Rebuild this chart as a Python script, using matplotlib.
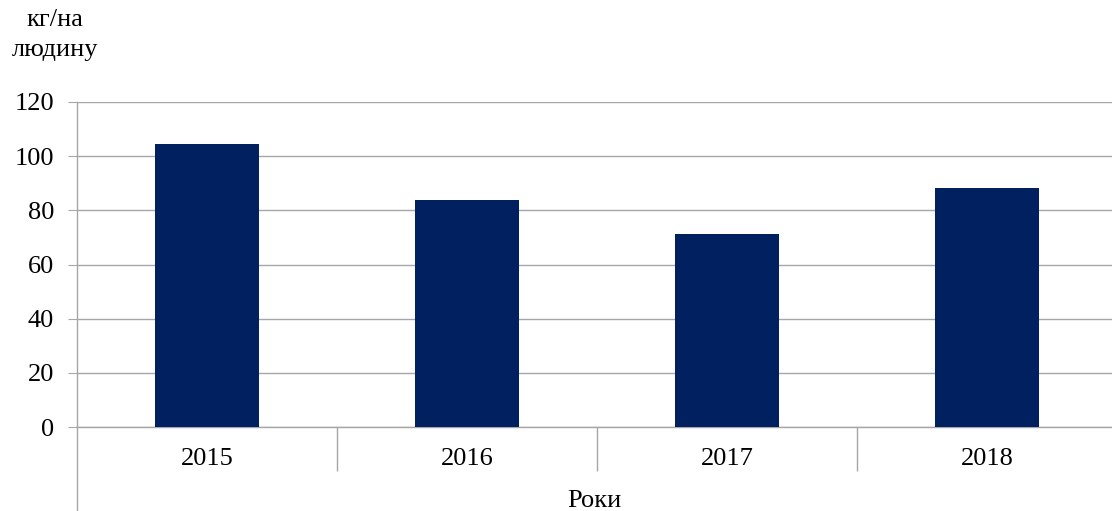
import numpy as np
import matplotlib.pyplot as plt
from matplotlib.lines import Line2D

years = ['2015', '2016', '2017', '2018']
values = [104.5, 83.8, 71.3, 88.2]
yticks = [0, 20, 40, 60, 80, 100, 120]

plt.rcParams['font.family'] = ['Liberation Serif', 'DejaVu Serif']

W, H = 1112, 511
fig = plt.figure(figsize=(W/100, H/100), dpi=100, facecolor="w")
ax = fig.add_axes([77/W, (H-427)/H, (W-77)/W, 325/H])

grey = '#a6a6a6'
X = np.arange(len(years))
ax.bar(X, values, width=0.4, color='#002060', zorder=3)

ax.set_xlim(-0.5, 3.48)
ax.set_ylim(0, 120)
ax.set_yticks(yticks)
ax.yaxis.grid(True, color=grey, lw=1)
ax.set_axisbelow(True)

for s in ['top', 'right']:
    ax.spines[s].set_visible(False)
for s in ['left', 'bottom']:
    ax.spines[s].set_color(grey)
    ax.spines[s].set_linewidth(1)

ax.tick_params(axis='y', direction='out', length=6.5, color=grey,
               labelsize=19, pad=10)
ax.set_xticks(X)
ax.set_xticklabels(years)
ax.tick_params(axis='x', which='major', length=0, labelsize=19, pad=15)
ax.set_xticks(X[:-1] + 0.5, minor=True)
ax.tick_params(axis='x', which='minor', direction='out', length=31.5,
               color=grey, width=1)

# left axis line continues below the plot
ax.add_line(Line2D([0, 0], [0, -83/325], transform=ax.transAxes,
                   color=grey, lw=1, clip_on=False))

fig.text(0.5 + 77/W/2, (H-501)/H, "Роки", ha='center', va='center', fontsize=19)
fig.text(55/W, (H-20)/H, "кг/на", ha='center', va='center', fontsize=19)
fig.text(55/W, (H-50)/H, "людину", ha='center', va='center', fontsize=19)

plt.savefig("out.png", dpi=100, facecolor="w")
